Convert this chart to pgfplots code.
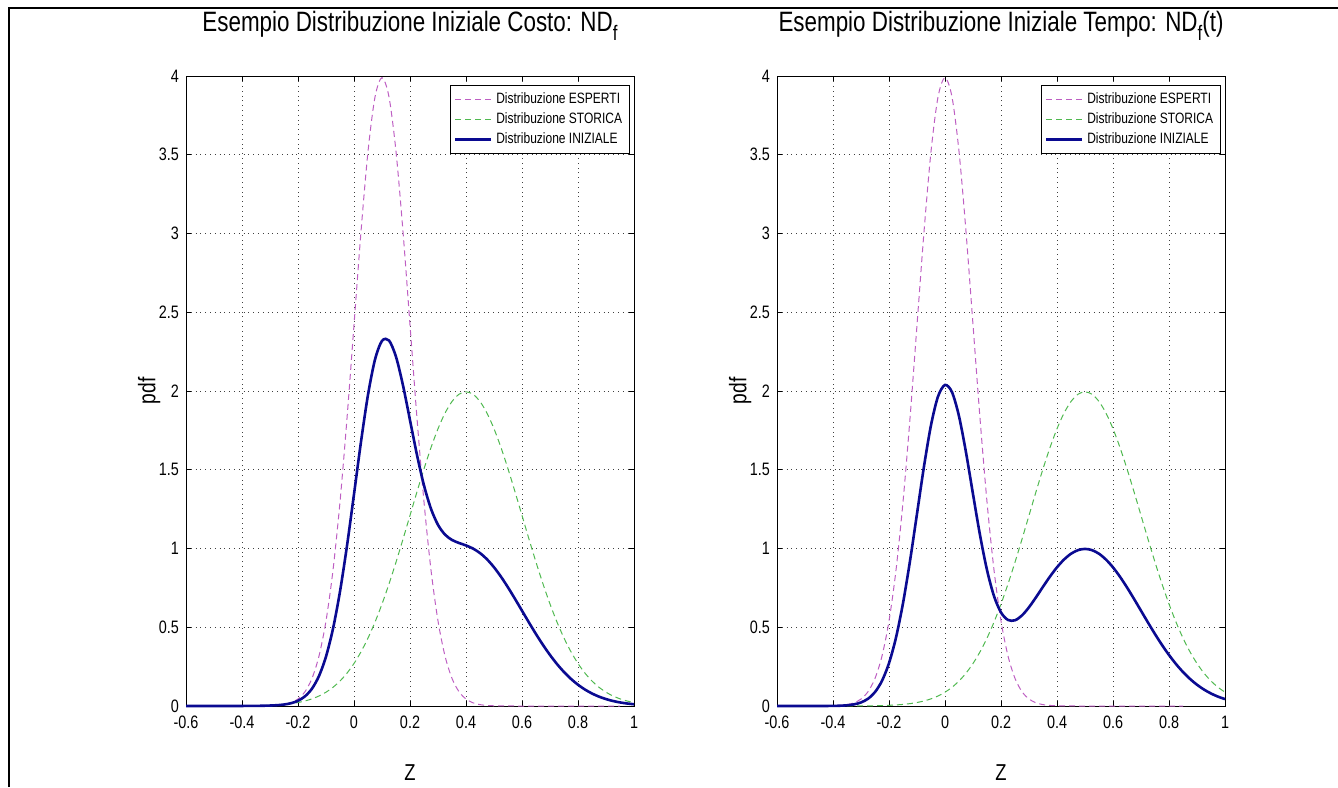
\documentclass[border=0pt]{standalone}
\usepackage{fontspec}
\setmainfont{Liberation Sans}[FakeStretch=0.8]
\usepackage{pgfplots}
\usepackage{pgfplotstable}
\pgfplotsset{compat=1.18}

\definecolor{esperti}{RGB}{190,95,195}
\definecolor{storica}{RGB}{80,185,80}
\definecolor{iniziale}{RGB}{10,10,145}

% z, esperti, storica, iniziale -- costo
\pgfplotstableread{
z E S I
-0.600 0 0 0
-0.575 0 0 0
-0.550 0 0 0
-0.525 0 0 0
-0.500 0 0.0001 0.0000
-0.475 0 0.0001 0.0001
-0.450 0 0.0002 0.0001
-0.425 0 0.0004 0.0002
-0.400 0 0.0007 0.0003
-0.375 0 0.0011 0.0005
-0.350 0 0.0018 0.0009
-0.325 0.0005 0.0028 0.0016
-0.300 0.0013 0.0044 0.0029
-0.275 0.0035 0.0067 0.0051
-0.250 0.0087 0.0102 0.0094
-0.225 0.0203 0.0151 0.0177
-0.200 0.0443 0.0222 0.0332
-0.175 0.0909 0.0320 0.0615
-0.150 0.1753 0.0455 0.1104
-0.125 0.3174 0.0636 0.1905
-0.100 0.5399 0.0876 0.3138
-0.075 0.8628 0.1189 0.4908
-0.050 1.2952 0.1587 0.7270
-0.025 1.8265 0.2086 1.0176
0.000 2.4197 0.2700 1.3448
0.025 3.0114 0.3439 1.6777
0.050 3.5207 0.4314 1.9761
0.075 3.8667 0.5327 2.1997
0.100 3.9894 0.6476 2.3185
0.125 3.8667 0.7751 2.3209
0.150 3.5207 0.9132 2.2170
0.175 3.0114 1.0594 2.0354
0.200 2.4197 1.2099 1.8148
0.225 1.8265 1.3603 1.5934
0.250 1.2952 1.5057 1.4004
0.275 0.8628 1.6408 1.2518
0.300 0.5399 1.7603 1.1501
0.325 0.3174 1.8593 1.0883
0.350 0.1753 1.9333 1.0543
0.375 0.0909 1.9792 1.0351
0.400 0.0443 1.9947 1.0195
0.425 0.0203 1.9792 0.9997
0.450 0.0087 1.9333 0.9710
0.475 0.0035 1.8593 0.9314
0.500 0.0013 1.7603 0.8808
0.525 0.0005 1.6408 0.8206
0.550 0.0002 1.5057 0.7529
0.575 0 1.3603 0.6801
0.600 0 1.2099 0.6049
0.625 0 1.0594 0.5297
0.650 0 0.9132 0.4566
0.675 0 0.7751 0.3875
0.700 0 0.6476 0.3238
0.725 0 0.5327 0.2664
0.750 0 0.4314 0.2157
0.775 0 0.3439 0.1720
0.800 0 0.2700 0.1350
0.825 0 0.2086 0.1043
0.850 0 0.1587 0.0794
0.875 0 0.1189 0.0594
0.900 0 0.0876 0.0438
0.925 0 0.0636 0.0318
0.950 0 0.0455 0.0227
0.975 0 0.0320 0.0160
1.000 0 0.0222 0.0111
}\costo

% same columns -- tempo
\pgfplotstableread{
z E S I
-0.600 0 0 0
-0.575 0 0 0
-0.550 0 0 0
-0.525 0 0 0
-0.500 0 0 0
-0.475 0 0 0
-0.450 0.0002 0 0.0001
-0.425 0.0005 0 0.0002
-0.400 0.0013 0.0001 0.0007
-0.375 0.0035 0.0001 0.0018
-0.350 0.0087 0.0002 0.0045
-0.325 0.0203 0.0004 0.0104
-0.300 0.0443 0.0007 0.0225
-0.275 0.0909 0.0011 0.0460
-0.250 0.1753 0.0018 0.0885
-0.225 0.3174 0.0028 0.1601
-0.200 0.5399 0.0044 0.2721
-0.175 0.8628 0.0067 0.4347
-0.150 1.2952 0.0102 0.6527
-0.125 1.8265 0.0151 0.9208
-0.100 2.4197 0.0222 1.2209
-0.075 3.0114 0.0320 1.5217
-0.050 3.5207 0.0455 1.7831
-0.025 3.8667 0.0636 1.9652
0.000 3.9894 0.0876 2.0385
0.025 3.8667 0.1189 1.9928
0.050 3.5207 0.1587 1.8397
0.075 3.0114 0.2086 1.6100
0.100 2.4197 0.2700 1.3448
0.125 1.8265 0.3439 1.0852
0.150 1.2952 0.4314 0.8633
0.175 0.8628 0.5327 0.6977
0.200 0.5399 0.6476 0.5938
0.225 0.3174 0.7751 0.5462
0.250 0.1753 0.9132 0.5443
0.275 0.0909 1.0594 0.5752
0.300 0.0443 1.2099 0.6271
0.325 0.0203 1.3603 0.6903
0.350 0.0087 1.5057 0.7572
0.375 0.0035 1.6408 0.8222
0.400 0.0013 1.7603 0.8808
0.425 0.0005 1.8593 0.9299
0.450 0.0002 1.9333 0.9668
0.475 0 1.9792 0.9896
0.500 0 1.9947 0.9974
0.525 0 1.9792 0.9896
0.550 0 1.9333 0.9667
0.575 0 1.8593 0.9296
0.600 0 1.7603 0.8802
0.625 0 1.6408 0.8204
0.650 0 1.5057 0.7528
0.675 0 1.3603 0.6801
0.700 0 1.2099 0.6049
0.725 0 1.0594 0.5297
0.750 0 0.9132 0.4566
0.775 0 0.7751 0.3875
0.800 0 0.6476 0.3238
0.825 0 0.5327 0.2664
0.850 0 0.4314 0.2157
0.875 0 0.3439 0.1720
0.900 0 0.2700 0.1350
0.925 0 0.2086 0.1043
0.950 0 0.1587 0.0794
0.975 0 0.1189 0.0594
1.000 0 0.0876 0.0438
}\tempo

\pgfplotsset{
  matlab/.style={
    scale only axis, width=224pt, height=315pt,
    anchor=south west, clip=false,
    xmin=-0.6, xmax=1, ymin=0, ymax=4,
    xtick={-0.6,-0.4,-0.2,0,0.2,0.4,0.6,0.8,1},
    ytick={0,0.5,1,1.5,2,2.5,3,3.5,4},
    grid=major, major grid style={black!75, dotted, line width=0.5pt},
    tick align=inside, major tick length=2.5pt,
    axis line style={black, line width=0.5pt},
    tick style={black, line width=0.5pt},
    tick label style={font=\fontsize{9}{10}\selectfont},
    xticklabel style={yshift=-1.5pt},
    /pgf/number format/assume math mode=true,
    xlabel={Z}, ylabel={pdf},
    xlabel style={at={(axis description cs:0.5,-0.105)}, anchor=center, font=\fontsize{11.5}{13}\selectfont},
    ylabel style={at={(axis description cs:-0.082,0.5)}, anchor=center, font=\fontsize{12}{13}\selectfont},
    title style={at={(axis description cs:0.5,1.052)}, anchor=base, font=\fontsize{14}{16}\selectfont},
    legend style={at={(rel axis cs:0.99,0.985)}, anchor=north east, draw=black,
      font=\fontsize{7.5}{8.5}\selectfont, inner sep=1.5pt, row sep=-1pt,
      cells={anchor=west}},
    legend image code/.code={\draw[#1] (0pt,0pt) -- (18pt,0pt);},
  },
  esp/.style={esperti, line width=0.5pt, dash pattern=on 3pt off 2pt, smooth},
  sto/.style={storica, line width=0.5pt, dash pattern=on 3pt off 2pt, smooth},
  ini/.style={iniziale, line width=1.3pt, smooth},
}

\begin{document}
\begin{tikzpicture}
\useasboundingbox (0,0) rectangle (669pt,393.5pt);
\draw[line width=1.2pt] (4.5pt,0) -- (4.5pt,389.5pt) -- (669pt,389.5pt);

\begin{axis}[matlab, at={(93pt,40.5pt)},
  title={Esempio Distribuzione Iniziale Costo: ND\raisebox{-0.6ex}{\fontsize{10.5}{11}\selectfont f}}]
\addplot[esp, restrict x to domain=-0.6:0.96] table[x=z, y=E] {\costo};
\addplot[sto] table[x=z, y=S] {\costo};
\addplot[ini] table[x=z, y=I] {\costo};
\legend{Distribuzione ESPERTI, Distribuzione STORICA, Distribuzione INIZIALE}
\end{axis}

\begin{axis}[matlab, at={(388.5pt,40.5pt)},
  title={Esempio Distribuzione Iniziale Tempo: ND\raisebox{-0.6ex}{\fontsize{10.5}{11}\selectfont f}(t)}]
\addplot[esp, restrict x to domain=-0.6:0.86] table[x=z, y=E] {\tempo};
\addplot[sto] table[x=z, y=S] {\tempo};
\addplot[ini] table[x=z, y=I] {\tempo};
\legend{Distribuzione ESPERTI, Distribuzione STORICA, Distribuzione INIZIALE}
\end{axis}
\end{tikzpicture}
\end{document}
